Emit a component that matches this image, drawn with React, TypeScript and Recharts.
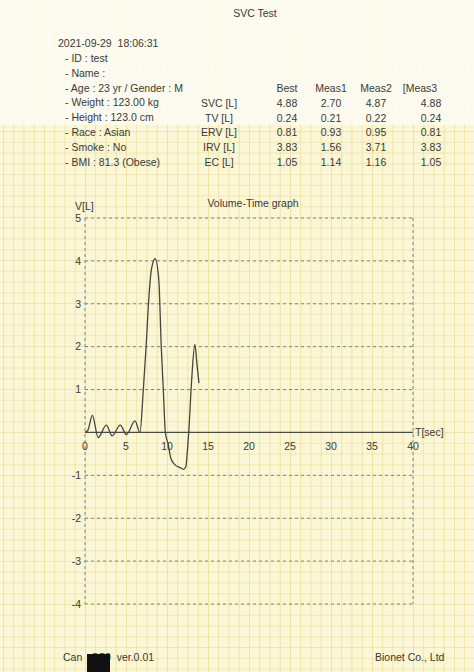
import React from "react";
import {
  LineChart,
  Line,
  XAxis,
  YAxis,
  CartesianGrid,
  ReferenceLine,
  ReferenceDot,
} from "recharts";

// volume-time trace
const timeSec = [
  0, 0.35, 0.9, 1.6, 2.6, 3.3, 4.3, 5.05, 6.1, 6.7, 7.1, 7.45, 7.8, 8.1, 8.55,
  9.0, 9.3, 9.55, 9.8, 10.15, 10.45, 10.95, 11.6, 12.0, 12.3, 12.5, 12.65, 13.0,
  13.4, 13.65, 13.9,
];
const volumeL = [
  0, 0.05, 0.4, -0.12, 0.17, -0.08, 0.17, -0.05, 0.27, 0, 0.96, 2.0, 3.17, 3.8,
  4.05, 3.56, 2.0, 1.0, 0, -0.28, -0.59, -0.75, -0.82, -0.86, -0.8, -0.4, 0,
  1.2, 2.05, 1.6, 1.15,
];

const xLabels = [0, 5, 10, 15, 20, 25, 30, 35, 40];
const xGridTicks = [5, 10, 15, 20, 25, 30, 35, 40];
const yTicks = [-4, -3, -2, -1, 1, 2, 3, 4, 5];

const patientInfo = [
  "- ID : test",
  "- Name :",
  "- Age : 23 yr / Gender : M",
  "- Weight : 123.00 kg",
  "- Height : 123.0 cm",
  "- Race : Asian",
  "- Smoke : No",
  "- BMI : 81.3 (Obese)",
];

const paramNames = ["SVC [L]", "TV [L]", "ERV [L]", "IRV [L]", "EC [L]"];
const colHeaders = ["Best", "Meas1", "Meas2", "[Meas3"];
const best = ["4.88", "0.24", "0.81", "3.83", "1.05"];
const meas1 = ["2.70", "0.21", "0.93", "1.56", "1.14"];
const meas2 = ["4.87", "0.22", "0.95", "3.71", "1.16"];
const meas3 = ["4.88", "0.24", "0.81", "3.83", "1.05"];

const data = timeSec.map((t, i) => ({ t, v: volumeL[i] }));

const FONT = '"Liberation Sans", Arial, sans-serif';
const INK = "#3a3a36";
const FS = 10.5;

function Txt({
  x,
  y,
  children,
  align = "left",
}: {
  x: number;
  y: number;
  children: React.ReactNode;
  align?: "left" | "center";
}) {
  return (
    <div
      style={{
        position: "absolute",
        left: align === "center" ? x - 60 : x,
        width: align === "center" ? 120 : undefined,
        textAlign: align,
        top: y - 5,
        fontSize: FS,
        lineHeight: "10px",
        whiteSpace: "pre",
        color: INK,
      }}
    >
      {children}
    </div>
  );
}

const rowY = [88, 103, 118, 132, 147, 162];
const colX = [287, 331, 376, 431];

export default function App() {
  return (
    <div
      style={{
        position: "absolute",
        left: 0,
        top: 0,
        width: 474,
        height: 672,
        overflow: "hidden",
        fontFamily: FONT,
        backgroundColor: "#fbf6d6",
        backgroundImage:
          "linear-gradient(90deg, rgba(230,214,130,0.6) 1px, transparent 1px), linear-gradient(0deg, rgba(230,214,130,0.45) 1px, transparent 1px)",
        backgroundSize: "10.25px 10.75px",
        backgroundPosition: "85px 433px",
      }}
    >
      {/* paler strip on top of the sheet */}
      <div
        style={{
          position: "absolute",
          left: 0,
          top: 0,
          width: 474,
          height: 125,
          background: "rgba(253,252,244,0.88)",
        }}
      />

      <LineChart
        width={474}
        height={672}
        data={data}
        margin={{ top: 218, right: 61, bottom: 68, left: 45 }}
        style={{ position: "absolute", left: 0, top: 0 }}
      >
        <CartesianGrid
          stroke="#85837a"
          strokeDasharray="3 3"
          strokeWidth={1}
        />
        <XAxis
          dataKey="t"
          type="number"
          domain={[0, 40]}
          ticks={xGridTicks}
          interval={0}
          height={0}
          tick={false}
          axisLine={false}
          tickLine={false}
        />
        <YAxis
          type="number"
          domain={[-4, 5]}
          ticks={yTicks}
          interval={0}
          width={40}
          axisLine={false}
          tickLine={false}
          tickSize={0}
          tickMargin={4}
          tick={{ fontSize: FS, fill: INK, fontFamily: FONT }}
        />
        <ReferenceLine
          y={0}
          stroke="#4a4a44"
          strokeWidth={1.2}
          label={{
            value: "T[sec]",
            position: "right",
            offset: 2,
            fontSize: FS,
            fill: INK,
          }}
        />
        {xLabels.map((t) => (
          <ReferenceDot
            key={t}
            x={t}
            y={0}
            r={0}
            stroke="none"
            fill="none"
            label={{
              value: String(t),
              position: "bottom",
              offset: 10,
              fontSize: FS,
              fill: INK,
            }}
          />
        ))}
        <Line
          type="monotone"
          dataKey="v"
          stroke="#45453f"
          strokeWidth={1.3}
          dot={false}
          isAnimationActive={false}
        />
      </LineChart>

      <Txt x={255} y={13} align="center">SVC Test</Txt>
      <Txt x={58} y={43}>2021-09-29  18:06:31</Txt>
      {patientInfo.map((s, i) => (
        <Txt key={s} x={65} y={58 + i * 14.8}>
          {s}
        </Txt>
      ))}
      {colHeaders.map((h, i) => (
        <Txt key={h} x={i === 3 ? 420 : colX[i]} y={rowY[0]} align="center">
          {h}
        </Txt>
      ))}
      {paramNames.map((p, r) => (
        <React.Fragment key={p}>
          <Txt x={219} y={rowY[r + 1]} align="center">{p}</Txt>
          <Txt x={colX[0]} y={rowY[r + 1]} align="center">{best[r]}</Txt>
          <Txt x={colX[1]} y={rowY[r + 1]} align="center">{meas1[r]}</Txt>
          <Txt x={colX[2]} y={rowY[r + 1]} align="center">{meas2[r]}</Txt>
          <Txt x={colX[3]} y={rowY[r + 1]} align="center">{meas3[r]}</Txt>
        </React.Fragment>
      ))}

      <Txt x={253} y={203} align="center">Volume-Time graph</Txt>
      <Txt x={75} y={206}>V[L]</Txt>

      <Txt x={63} y={657}>Can   Q50  ver.0.01</Txt>
      <Txt x={375} y={657}>Bionet Co., Ltd</Txt>
      <div
        style={{
          position: "absolute",
          left: 87,
          top: 654,
          width: 23,
          height: 18,
          background: "#111",
        }}
      />
    </div>
  );
}
